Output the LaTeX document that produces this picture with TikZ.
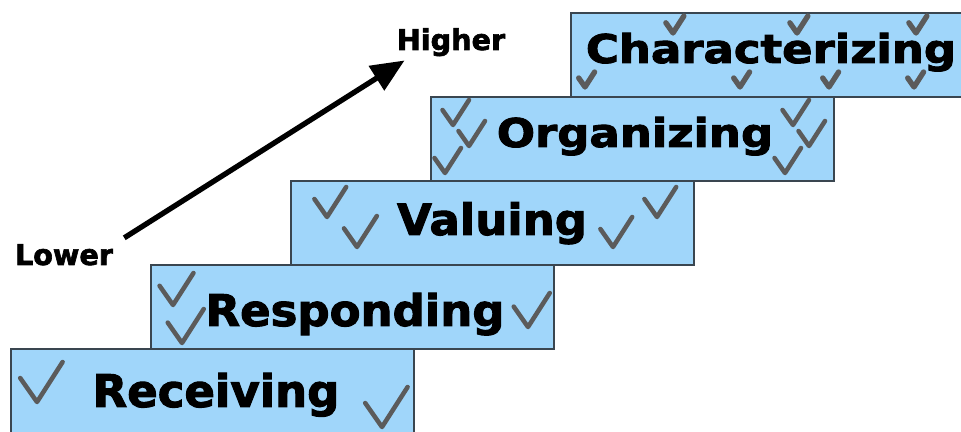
\documentclass[tikz,border=0pt]{standalone}
\usepackage{fontspec}
\setmainfont{DejaVu Sans}
\newfontfamily\heavyfont[FakeBold=2.2]{DejaVu Sans Bold}
\usepackage{tikz}
\usepackage{xcolor}
\usetikzlibrary{arrows.meta}
\definecolor{ink}{HTML}{000000}
\definecolor{stepblue}{HTML}{A0D6FA}
\definecolor{stepedge}{HTML}{3A4650}
\definecolor{tickgray}{HTML}{5B5B5B}
\tikzset{
  stepbox/.style={draw=stepedge,fill=stepblue,line width=1.1pt},
  steplabel/.style={anchor=base,inner sep=0pt,text=ink,
                    font=\fontsize{33.75}{40}\selectfont\heavyfont},
  endlabel/.style={anchor=base,inner sep=0pt,text=ink,
                   font=\fontsize{21.5}{26}\selectfont\heavyfont},
  tickline/.style={draw=tickgray,line cap=round,line join=round},
  tick/.pic={\draw[tickline] (-0.42,0.6) -- (0,0) -- (0.64,1);},
  risearr/.style={-{Triangle[length=25pt,width=21pt]},line width=4pt,
                  draw=ink}
}

\begin{document}
\begin{tikzpicture}[x=0.75pt,y=0.75pt]
    \path[use as bounding box] (0,0) rectangle (961,432);

    % the five steps, each 140 right and 84 up from the last
    \foreach \i in {0,...,4}{
      \draw[stepbox] ({11+140*\i},{-1+84*\i}) rectangle ++(403,84);
    }

    \foreach \cx/\by/\ys/\nm/\txt in {216/25/1/recv/Receiving,
        355/106/0.97/resp/Responding,492/197/0.96/valu/Valuing,
        635/285/0.88/orgn/Organizing,771/369/0.88/chrz/Characterizing}{
      \node[steplabel] (\nm) at (\cx,\by) {\scalebox{1}[\ys]{\txt}};
    }

    % ticks scattered over the lower four steps
    \foreach \px/\py/\s in {37/30/40,382/5/40,
        173/127/32,182/89/34,528/105/34,
        327/215/30,357/185/31,613/185/30,657/215/30,
        453/307/25,469/286/25,445/259/25,793/307/25,809/286/25,785/259/25}{
      \pic[scale=\s,line width=3.4pt] at (\px,\py) {tick};
    }
    % smaller ticks on the top step
    \foreach \px/\py/\s in {673/399/17,797/399/17,916/399/17,
        585/345/15,740/345/15,829/345/15,914/345/15}{
      \pic[scale=\s,line width=4pt] at (\px,\py) {tick};
    }

    \node[endlabel] (lower) at (64,167) {Lower};
    \node[endlabel] (higher) at (451,382) {Higher};
    \draw[risearr] ([shift={(11,6)}]lower.north east)
      -- ([shift={(8,-4)}]higher.south west);
  \end{tikzpicture}
\end{document}
